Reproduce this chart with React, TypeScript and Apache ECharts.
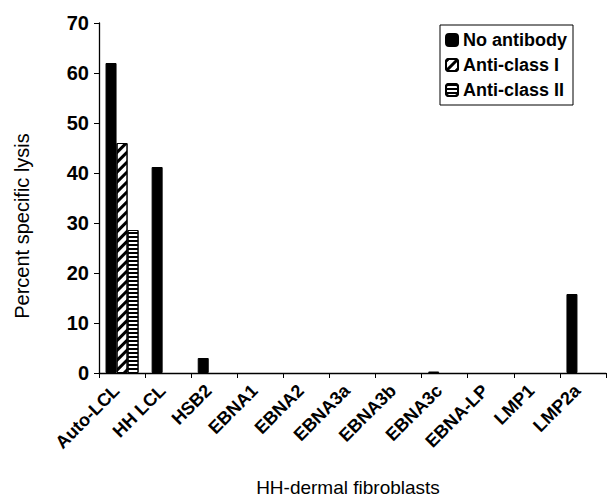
import React, { useEffect, useRef } from "react";
import * as echarts from "echarts";

const categories = ["Auto-LCL", "HH LCL", "HSB2", "EBNA1", "EBNA2", "EBNA3a", "EBNA3b", "EBNA3c", "EBNA-LP", "LMP1", "LMP2a"];
const seriesNames = ["No antibody", "Anti-class I", "Anti-class II"];
const noAntibody = [62, 41.2, 3, 0, 0, 0, 0, 0.3, 0, 0, 15.8];
const antiClassI = [46, 0, 0, 0, 0, 0, 0, 0, 0, 0, 0];
const antiClassII = [28.6, 0, 0, 0, 0, 0, 0, 0, 0, 0, 0];
const yTicks = { min: 0, max: 70, interval: 10 };
const xTitle = "HH-dermal fibroblasts";
const yTitle = "Percent specific lysis";

const withoutZeroBorder = (arr: number[]) =>
  arr.map((v) => (v === 0 ? { value: 0, itemStyle: { borderWidth: 0 } } : v));

export default function App() {
  const ref = useRef<HTMLDivElement>(null);
  useEffect(() => {
    if (!ref.current) return;
    const chart = echarts.init(ref.current, null, { renderer: "svg" });
    const font = "Liberation Sans, Arial, sans-serif";
    const barBase = { type: "bar" as const, barWidth: 11, barGap: "0%" };
    chart.setOption({
      animation: false,
      backgroundColor: "#fff",
      textStyle: { fontFamily: font, color: "#000" },
      grid: { left: 99, top: 23, right: 1, bottom: 124, containLabel: false },
      legend: {
        orient: "vertical",
        right: 34,
        top: 25,
        itemWidth: 12,
        itemHeight: 12,
        itemGap: 7,
        padding: [6, 6, 6, 5],
        borderColor: "#000",
        borderWidth: 1,
        borderRadius: 0,
        textStyle: { fontSize: 18, fontWeight: "bold", color: "#000" },
        data: seriesNames,
      },
      xAxis: {
        type: "category",
        data: categories,
        boundaryGap: true,
        axisLine: { lineStyle: { color: "#000", width: 1.3 } },
        axisTick: { show: true, length: 5, inside: false, lineStyle: { color: "#000" } },
        axisLabel: {
          rotate: 45,
          fontSize: 18,
          fontWeight: "bold",
          color: "#000",
          margin: 9,
          interval: 0,
          padding: [0, 8, 0, 0],
        },
      },
      yAxis: {
        type: "value",
        min: yTicks.min,
        max: yTicks.max,
        interval: yTicks.interval,
        axisLine: { show: true, lineStyle: { color: "#000", width: 1.3 } },
        axisTick: { show: true, length: 5, lineStyle: { color: "#000" } },
        splitLine: { show: false },
        axisLabel: { fontSize: 20, fontWeight: "bold", color: "#000", margin: 10 },
      },
      graphic: [
        {
          type: "text",
          x: 348,
          y: 487,
          style: {
            text: xTitle,
            fontSize: 19,
            fontFamily: font,
            fill: "#000",
            align: "center",
            verticalAlign: "middle",
          },
        },
        {
          type: "text",
          x: 22,
          y: 226,
          rotation: Math.PI / 2,
          style: {
            text: yTitle,
            fontSize: 20,
            fontFamily: font,
            fill: "#000",
            align: "center",
            verticalAlign: "middle",
          },
        },
      ],
      series: [
        {
          ...barBase,
          name: seriesNames[0],
          data: withoutZeroBorder(noAntibody),
          itemStyle: { color: "#000", borderColor: "#000", borderWidth: 1 },
        },
        {
          ...barBase,
          name: seriesNames[1],
          data: withoutZeroBorder(antiClassI),
          itemStyle: {
            color: "#fff",
            borderColor: "#000",
            borderWidth: 1,
            decal: {
              symbol: "rect",
              symbolSize: 1,
              color: "#000",
              dashArrayX: [1, 0],
              dashArrayY: [2.5, 3.5],
              rotation: -Math.PI / 4,
            },
          },
        },
        {
          ...barBase,
          name: seriesNames[2],
          data: withoutZeroBorder(antiClassII),
          itemStyle: {
            color: "#fff",
            borderColor: "#000",
            borderWidth: 1,
            decal: {
              symbol: "rect",
              symbolSize: 1,
              color: "#000",
              dashArrayX: [1, 0],
              dashArrayY: [1.5, 2],
              rotation: 0,
            },
          },
        },
      ],
    });
    return () => chart.dispose();
  }, []);
  return <div ref={ref} style={{ position: "fixed", left: 0, top: 0, width: 607, height: 497 }} />;
}
